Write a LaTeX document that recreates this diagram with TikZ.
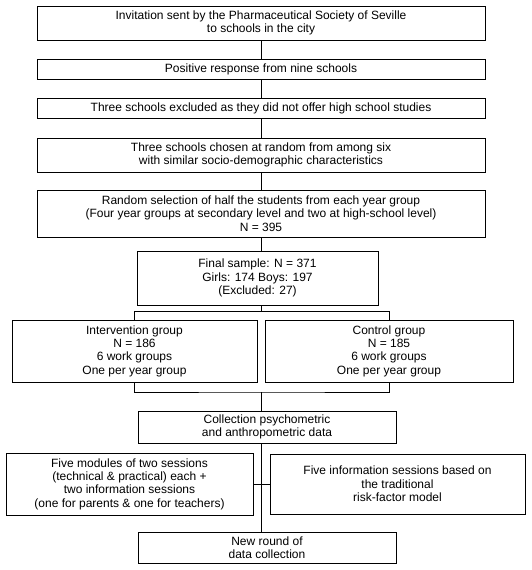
\documentclass[tikz,border=0pt]{standalone}
\usepackage{fontspec}
\setmainfont{Liberation Sans}
\begin{document}
\begin{tikzpicture}[x=1pt, y=-1pt,
  box/.style={draw, line width=0.8pt, align=center, inner sep=0pt,
    font=\fontsize{12}{13.4}\selectfont},
  link/.style={draw, line width=0.8pt}]
\useasboundingbox (0,0) rectangle (531,570);

\node[box, minimum width=448, minimum height=34] (invite) at (261,23) {Invitation sent by the Pharmaceutical Society of Seville\\to schools in the city};
\node[box, minimum width=448, minimum height=20] (positive) at (261,69) {Positive response from nine schools};
\node[box, minimum width=448, minimum height=20] (excluded) at (261,108) {Three schools excluded as they did not offer high school studies};
\node[box, minimum width=448, minimum height=34] (chosen) at (261,155) {Three schools chosen at random from among six\\with similar socio-demographic characteristics};
\node[box, minimum width=448, minimum height=47] (random) at (261,213.5) {Random selection of half the students from each year group\\(Four year groups at secondary level and two at high-school level)\\N = 395};
\node[box, minimum width=241, minimum height=54] (sample) at (257.5,278) {Final sample: N = 371\\Girls: 174 Boys: 197\\(Excluded: 27)};
\node[box, minimum width=245, minimum height=62] (interv) at (134.5,351) {Intervention group\\N = 186\\6 work groups\\One per year group};
\node[box, minimum width=248, minimum height=62] (control) at (389,351) {Control group\\N = 185\\6 work groups\\One per year group};
\node[box, minimum width=258, minimum height=32] (psycho) at (267,427) {Collection psychometric\\and anthropometric data};
\node[box, minimum width=247, minimum height=62] (modules) at (129.5,484) {Five modules of two sessions\\(technical \& practical) each +\\two information sessions\\(one for parents \& one for teachers)};
\node[box, minimum width=255, minimum height=60] (info) at (397.5,484) {Five information sessions based on\\the traditional\\risk-factor model};
\node[box, minimum width=258, minimum height=31] (newround) at (267,547.5) {New round of\\data collection};

\coordinate (split) at (261.7,311.7);
\coordinate (merge) at (261.7,392);

\path[link] (invite) -- (positive);
\path[link] (positive) -- (excluded);
\path[link] (excluded) -- (chosen);
\path[link] (chosen) -- (random);
\path[link] (random.south -| split) -- (sample.north -| split);
\path[link] (sample.south -| split) -- (split);
\path[link] (interv.north) |- (split) -| (control.north);
\path[link] (interv.south) |- (merge) -| (control.south);
\path[link] (merge) -- (psycho.north -| merge);
\path[link] (psycho.south -| merge) -- (newround.north -| merge);
\path[link] (modules) -- (info);
\end{tikzpicture}
\end{document}
